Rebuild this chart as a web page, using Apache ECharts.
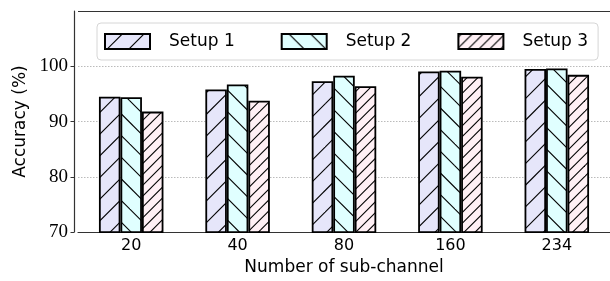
<!DOCTYPE html>
<html>
<head>
<meta charset="utf-8">
<script src="https://cdn.jsdelivr.net/npm/echarts@6/dist/echarts.min.js"></script>
<style>
  html, body { margin: 0; padding: 0; background: #fff; }
  #chart { width: 610px; height: 281px; }
</style>
</head>
<body>
<div id="chart"></div>
<script>
const categories = ['20', '40', '80', '160', '234']
const setup1 = [94.5, 95.8, 97.3, 99.05, 99.5]
const setup2 = [94.4, 96.7, 98.3, 99.2, 99.6]
const setup3 = [91.8, 93.75, 96.4, 98.1, 98.45]
const yMax = 110

// hatch fill like matplotlib: '/', '\' and '//'
function hatch(bg, dir, n, phase) {
  const T = 65
  const c = document.createElement('canvas')
  c.width = T
  c.height = T
  const ctx = c.getContext('2d')
  ctx.fillStyle = bg
  ctx.fillRect(0, 0, T, T)
  ctx.strokeStyle = '#000'
  ctx.lineWidth = 1.1
  const step = T / n
  for (let k = -2 * n; k <= 3 * n; k++) {
    const c0 = phase + k * step
    ctx.beginPath()
    if (dir === '/') {
      ctx.moveTo(c0 + T, -T)
      ctx.lineTo(c0 - 2 * T, 2 * T)
    } else {
      ctx.moveTo(-T, -T + c0)
      ctx.lineTo(2 * T, 2 * T + c0)
    }
    ctx.stroke()
  }
  return {image: c, repeat: 'repeat'}
}

const sans = 'DejaVu Sans'
const serif = 'Liberation Serif'

let barStyle = (fill) => ({
  color: fill,
  borderColor: '#000',
  borderWidth: 1.8
})

let option = {
  animation: false,
  backgroundColor: '#fff',
  grid: {
    left: 78,
    right: -4,
    top: 11,
    bottom: 46
  },
  legend: {
    left: 97,
    top: 23,
    padding: [10, 10, 10, 7],
    itemWidth: 45,
    itemHeight: 15,
    itemGap: 46,
    icon: 'rect',
    backgroundColor: 'rgba(255,255,255,0.8)',
    borderColor: '#d6d6d6',
    borderWidth: 1,
    borderRadius: 4,
    textStyle: {
      fontFamily: sans,
      fontSize: 17,
      color: '#000',
      padding: [0, 0, 0, 14]
    },
    data: ['Setup 1', 'Setup 2', 'Setup 3']
  },
  xAxis: {
    type: 'category',
    data: categories,
    name: 'Number of sub-channel',
    nameLocation: 'middle',
    nameGap: 22,
    nameTextStyle: {fontFamily: sans, fontSize: 17, color: '#000'},
    axisLine: {show: true, lineStyle: {color: '#333', width: 1.2}},
    axisTick: {alignWithLabel: true, length: 3.5, lineStyle: {color: '#333'}},
    axisLabel: {fontFamily: sans, fontSize: 16, color: '#000', margin: 6}
  },
  yAxis: {
    type: 'value',
    min: 70,
    max: yMax,
    interval: 10,
    offset: 4,
    name: 'Accuracy (%)',
    nameLocation: 'middle',
    nameGap: 39,
    nameTextStyle: {fontFamily: sans, fontSize: 17, color: '#000'},
    axisLine: {show: true, lineStyle: {color: '#333', width: 1.2}},
    axisTick: {show: true, length: 3.5, lineStyle: {color: '#333'}},
    axisLabel: {fontFamily: serif, fontSize: 19, color: '#000', margin: 6, showMaxLabel: false},
    splitLine: {lineStyle: {color: '#aaa', type: [1.5, 1.5], width: 0.8}}
  },
  series: [
    {
      name: 'Setup 1',
      type: 'bar',
      data: setup1,
      barWidth: 21.5,
      barGap: '0%',
      itemStyle: barStyle(hatch('#e6e6fa', '/', 3, 17.3)),
      // top spine
      markLine: {
        silent: true,
        symbol: ['none', 'none'],
        label: {show: false},
        lineStyle: {color: '#333', width: 1.2, type: 'solid'},
        data: [{yAxis: yMax}]
      }
    },
    {
      name: 'Setup 2',
      type: 'bar',
      data: setup2,
      barWidth: 21.5,
      barGap: '0%',
      itemStyle: barStyle(hatch('#e0ffff', '\\', 3, 14.3))
    },
    {
      name: 'Setup 3',
      type: 'bar',
      data: setup3,
      barWidth: 21.5,
      barGap: '0%',
      itemStyle: barStyle(hatch('#fff0f5', '/', 6, 3))
    }
  ]
}

let chart = echarts.init(document.getElementById('chart'))
chart.setOption(option)
</script>
</body>
</html>
